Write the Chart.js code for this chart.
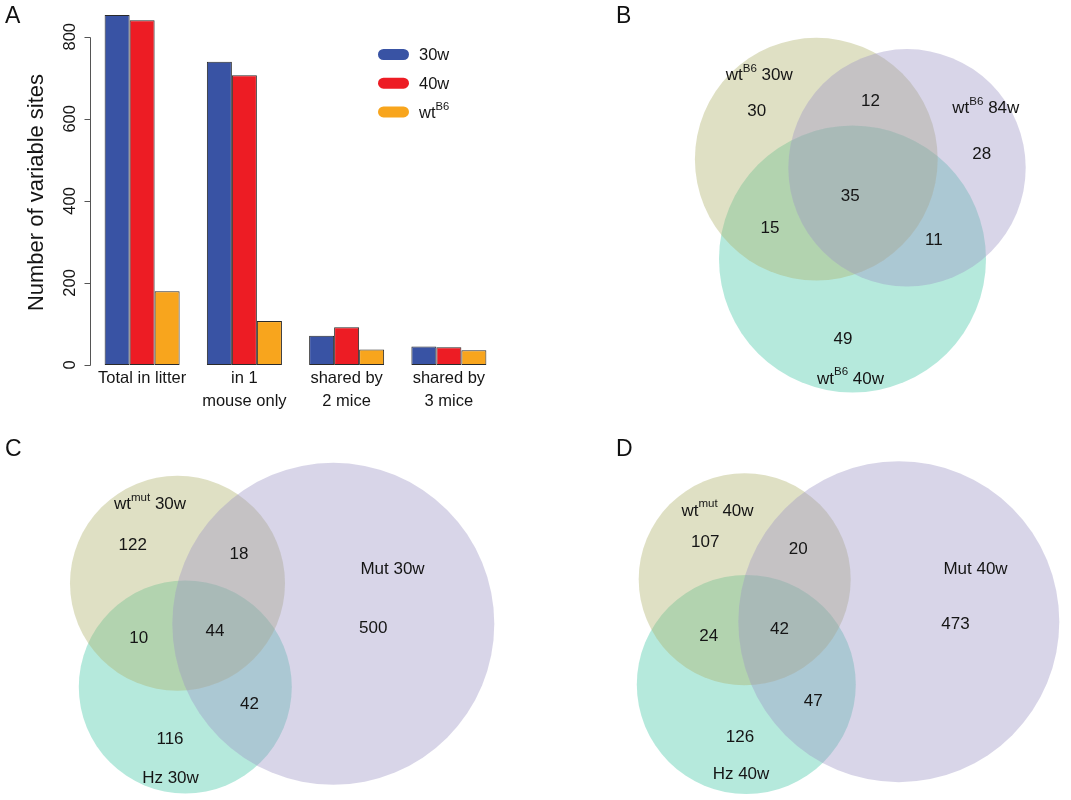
<!DOCTYPE html>
<html>
<head>
<meta charset="utf-8">
<title>Variable sites</title>
<script src="https://cdn.jsdelivr.net/npm/chart.js@4.4.1/dist/chart.umd.min.js"></script>
<style>
  html, body { margin: 0; padding: 0; background: #fff; }
  #page { position: relative; width: 1071px; height: 800px; overflow: hidden; font-family: "Liberation Sans", Arial, sans-serif; }
  .panel { position: absolute; }
  .panel canvas { display: block; }
  .letter { position: absolute; font-size: 23px; line-height: 1; color: #111; }
</style>
</head>
<body>
<div id="page">
  <div class="panel" style="left:0;top:0"><canvas id="barChart" width="540" height="410"></canvas></div>
  <div class="panel" style="left:540px;top:0"><canvas id="vennB" width="531" height="410"></canvas></div>
  <div class="panel" style="left:0;top:400px"><canvas id="vennC" width="540" height="400"></canvas></div>
  <div class="panel" style="left:540px;top:400px"><canvas id="vennD" width="531" height="400"></canvas></div>
  <div class="letter" style="left:5px;top:4px">A</div>
  <div class="letter" style="left:616px;top:4px">B</div>
  <div class="letter" style="left:5px;top:437px">C</div>
  <div class="letter" style="left:616px;top:437px">D</div>
</div>
<script>
const FONT = '"Liberation Sans", Arial, sans-serif';
const TEXT = '#151515';

// panel A: bars
const barCategories = [['Total in litter'], ['in 1', 'mouse only'], ['shared by', '2 mice'], ['shared by', '3 mice']];
const barSeries = ['30w', '40w', 'wt^B6'];
const sites30w = [853, 739, 71, 45];
const sites40w = [840, 706, 92, 43];
const sitesWtB6 = [180, 107, 38, 36];
const barColors = ['#3953a4', '#ed1c24', '#f8a51d'];
const yTicks = [0, 200, 400, 600, 800];
const yTitle = 'Number of variable sites';

// panel B: wtB6 mice (circles listed in drawing order)
const vennBSets = ['wt^B6 40w', 'wt^B6 30w', 'wt^B6 84w'];
const vennBCircleX = [312.5, 276.3, 367];
const vennBCircleY = [259, 159.2, 167.8];
const vennBCircleR = [133.5, 121.4, 118.7];
const vennBNameX = [310.5, 219.2, 445.8];
const vennBNameY = [377.8, 74, 107];
const vennBCounts = [30, 12, 28, 15, 35, 11, 49];
const vennBCountX = [216.7, 330.5, 441.7, 230, 310.2, 393.8, 303];
const vennBCountY = [110, 100, 153.3, 226.7, 195, 239.3, 338.3];

// panel C: 30w litter
const vennCSets = ['Hz 30w', 'wt^mut 30w', 'Mut 30w'];
const vennCCircleX = [185.3, 177.5, 333.3];
const vennCCircleY = [287, 183.3, 223.8];
const vennCCircleR = [106.5, 107.5, 161];
const vennCNameX = [170.5, 150, 392.5];
const vennCNameY = [376.7, 103.3, 168.3];
const vennCCounts = [122, 18, 500, 10, 44, 42, 116];
const vennCCountX = [132.7, 239, 373.3, 138.8, 215, 249.5, 170];
const vennCCountY = [144, 153.3, 227.3, 237.3, 230, 302.7, 338.3];

// panel D: 40w litter
const vennDSets = ['Hz 40w', 'wt^mut 40w', 'Mut 40w'];
const vennDCircleX = [206.3, 204.7, 358.8];
const vennDCircleY = [284.5, 179.3, 221.7];
const vennDCircleR = [109.5, 106, 160.5];
const vennDNameX = [201, 177.5, 435.5];
const vennDNameY = [373.3, 109.7, 167.8];
const vennDCounts = [107, 20, 473, 24, 42, 47, 126];
const vennDCountX = [165.3, 258.3, 415.5, 168.8, 239.5, 273.3, 200];
const vennDCountY = [140.7, 148.3, 222.7, 235, 228.3, 300, 336];

// teal, olive, purple
const vennColors = ['rgba(70, 200, 168, 0.4)', 'rgba(175, 178, 108, 0.4)', 'rgba(158, 150, 198, 0.4)'];

Chart.defaults.font.family = FONT;
Chart.defaults.color = TEXT;

// text like 'wt^B6 30w' -> 'wt' + superscript 'B6' + ' 30w'
function richWidth(ctx, label, size) {
  let w = 0;
  label.split(/\^(\S+)/).forEach((p, i) => {
    ctx.font = `${i % 2 ? size * 0.68 : size}px ${FONT}`;
    w += ctx.measureText(p).width;
  });
  return w;
}

function drawRichText(ctx, label, cx, cy, size) {
  const parts = label.split(/\^(\S+)/);
  let x = cx - richWidth(ctx, label, size) / 2;
  const base = cy + size * 0.358;
  ctx.textAlign = 'left';
  ctx.textBaseline = 'alphabetic';
  parts.forEach((p, i) => {
    ctx.font = `${i % 2 ? size * 0.68 : size}px ${FONT}`;
    ctx.fillText(p, x, i % 2 ? base - size * 0.5 : base);
    x += ctx.measureText(p).width;
  });
}

const rAxisPlugin = {
  id: 'rAxis',
  afterDraw(chart) {
    const { ctx, chartArea, scales: { y } } = chart;
    const x0 = chartArea.left - 0.5;
    ctx.save();
    ctx.strokeStyle = '#555';
    ctx.lineWidth = 1;
    ctx.beginPath();
    ctx.moveTo(x0, Math.round(y.getPixelForValue(yTicks[0])) + 0.5);
    ctx.lineTo(x0, Math.round(y.getPixelForValue(yTicks[yTicks.length - 1])) + 0.5);
    yTicks.forEach(v => {
      const py = Math.round(y.getPixelForValue(v)) + 0.5;
      ctx.moveTo(x0 - 6, py);
      ctx.lineTo(x0, py);
    });
    ctx.stroke();

    ctx.fillStyle = TEXT;
    ctx.textAlign = 'center';
    ctx.textBaseline = 'alphabetic';
    ctx.font = `16.5px ${FONT}`;
    yTicks.forEach(v => {
      ctx.save();
      ctx.translate(x0 - 16, y.getPixelForValue(v));
      ctx.rotate(-Math.PI / 2);
      ctx.fillText(String(v), 0, 0);
      ctx.restore();
    });

    ctx.font = `22px ${FONT}`;
    ctx.translate(43, 192.5);
    ctx.rotate(-Math.PI / 2);
    ctx.fillText(yTitle, 0, 0);
    ctx.restore();
  }
};

const barLegendPlugin = {
  id: 'barLegend',
  afterDraw(chart) {
    const { ctx } = chart;
    ctx.save();
    chart.data.datasets.forEach((ds, i) => {
      const cy = 54.5 + i * 28.7;
      ctx.fillStyle = ds.backgroundColor;
      ctx.beginPath();
      ctx.roundRect(378, cy - 5.5, 31, 11, 5.5);
      ctx.fill();
      ctx.fillStyle = TEXT;
      drawRichText(ctx, ds.label, 419 + richWidth(ctx, ds.label, 16.5) / 2, cy, 16.5);
    });
    ctx.restore();
  }
};

function renderBars() {
  new Chart(document.getElementById('barChart'), {
    type: 'bar',
    data: {
      labels: barCategories,
      datasets: [sites30w, sites40w, sitesWtB6].map((values, i) => ({
        label: barSeries[i],
        data: values,
        backgroundColor: barColors[i],
        borderColor: '#2a2a2a',
        borderWidth: 1,
        borderSkipped: false,
        categoryPercentage: 0.7335,
        barPercentage: 1
      }))
    },
    options: {
      responsive: false,
      animation: false,
      events: [],
      layout: { padding: { top: 8, right: 40, bottom: 0, left: 0 } },
      plugins: { legend: { display: false }, tooltip: { enabled: false } },
      scales: {
        x: {
          grid: { display: false, drawTicks: false },
          border: { display: false },
          ticks: { color: TEXT, font: { size: 16.5, lineHeight: 1.4 }, padding: 2, maxRotation: 0, autoSkip: false },
          afterFit: scale => { scale.height = 45; }
        },
        y: {
          min: 0,
          max: 870,
          grid: { display: false },
          border: { display: false },
          ticks: { display: false },
          afterFit: scale => { scale.width = 91; }
        }
      }
    },
    plugins: [rAxisPlugin, barLegendPlugin]
  });
}

function renderVenn(id, sets, circleX, circleY, circleR, nameX, nameY, counts, countX, countY) {
  const canvas = document.getElementById(id);
  const labelPlugin = {
    id: 'vennLabels',
    afterDatasetsDraw(chart) {
      const { ctx, scales: { x, y } } = chart;
      ctx.save();
      ctx.fillStyle = TEXT;
      counts.forEach((c, i) => {
        drawRichText(ctx, String(c), x.getPixelForValue(countX[i]), y.getPixelForValue(countY[i]), 17);
      });
      sets.forEach((s, i) => {
        drawRichText(ctx, s, x.getPixelForValue(nameX[i]), y.getPixelForValue(nameY[i]), 17);
      });
      ctx.restore();
    }
  };

  const chart = new Chart(canvas, {
    type: 'scatter',
    data: {
      datasets: [{
        label: 'sets',
        data: sets.map((s, i) => ({ x: circleX[i], y: circleY[i] })),
        pointBackgroundColor: vennColors,
        pointBorderWidth: 0,
        showLine: false,
        clip: false,
        // radius given in axis units, converted through the x scale
        pointRadius: ctx => {
          const sx = ctx.chart.scales.x;
          if (!ctx.chart.chartArea || !sx) return 0;
          const r = Math.abs(sx.getPixelForValue(circleR[ctx.dataIndex]) - sx.getPixelForValue(0));
          return isFinite(r) ? r : 0;
        }
      }]
    },
    options: {
      responsive: false,
      animation: false,
      events: [],
      layout: { autoPadding: false, padding: 0 },
      plugins: { legend: { display: false }, tooltip: { enabled: false } },
      scales: {
        x: { type: 'linear', min: 0, max: canvas.width, display: false },
        y: { type: 'linear', min: 0, max: canvas.height, reverse: true, display: false }
      }
    },
    plugins: [labelPlugin]
  });
  chart.update('none');
}

renderBars();
renderVenn('vennB', vennBSets, vennBCircleX, vennBCircleY, vennBCircleR, vennBNameX, vennBNameY, vennBCounts, vennBCountX, vennBCountY);
renderVenn('vennC', vennCSets, vennCCircleX, vennCCircleY, vennCCircleR, vennCNameX, vennCNameY, vennCCounts, vennCCountX, vennCCountY);
renderVenn('vennD', vennDSets, vennDCircleX, vennDCircleY, vennDCircleR, vennDNameX, vennDNameY, vennDCounts, vennDCountX, vennDCountY);
</script>
</body>
</html>
